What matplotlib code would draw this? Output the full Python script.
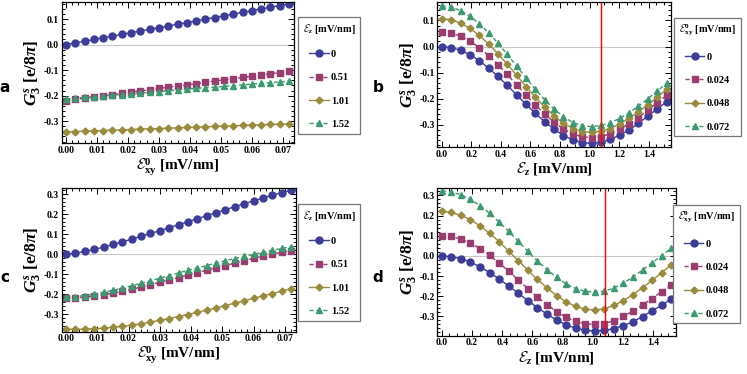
import matplotlib
matplotlib.use('Agg')
import matplotlib.pyplot as plt
from matplotlib.ticker import MultipleLocator, FormatStrFormatter

plt.rcParams['font.family'] = ['Liberation Serif', 'DejaVu Serif']
plt.rcParams['font.weight'] = 'bold'
plt.rcParams['axes.labelweight'] = 'bold'
plt.rcParams['mathtext.fontset'] = 'custom'
plt.rcParams['mathtext.rm'] = 'Liberation Serif:bold'
plt.rcParams['mathtext.bf'] = 'Liberation Serif:bold'
plt.rcParams['mathtext.it'] = 'Liberation Serif:italic:bold'
plt.rcParams['mathtext.cal'] = 'cmsy10'

# ---- data ----
exy = [0.000, 0.003, 0.006, 0.009, 0.012, 0.015, 0.018, 0.021, 0.024, 0.027, 0.030, 0.033,
       0.036, 0.039, 0.042, 0.045, 0.048, 0.051, 0.054, 0.057, 0.060, 0.063, 0.066, 0.069, 0.072]
ez = [0.000, 0.063, 0.127, 0.190, 0.253, 0.317, 0.380, 0.443, 0.507, 0.570, 0.633, 0.697,
      0.760, 0.823, 0.887, 0.950, 1.013, 1.077, 1.140, 1.203, 1.267, 1.330, 1.393, 1.457, 1.520]

ez_labels = ['0', '0.51', '1.01', '1.52']
exy_labels = ['0', '0.024', '0.048', '0.072']

# panel a: G vs Exy, fixed Ez
a_ez0 = [0.000, 0.007, 0.013, 0.020, 0.027, 0.033, 0.040, 0.047, 0.053, 0.060, 0.066, 0.073,
         0.080, 0.086, 0.093, 0.100, 0.106, 0.113, 0.120, 0.126, 0.133, 0.140, 0.146, 0.153, 0.159]
a_ez051 = [-0.220, -0.215, -0.210, -0.206, -0.201, -0.196, -0.191, -0.186, -0.182, -0.177, -0.172, -0.167,
           -0.162, -0.158, -0.153, -0.148, -0.143, -0.138, -0.134, -0.129, -0.124, -0.119, -0.114, -0.110, -0.105]
a_ez101 = [-0.342, -0.341, -0.339, -0.338, -0.337, -0.335, -0.334, -0.333, -0.331, -0.330, -0.329, -0.328,
           -0.326, -0.325, -0.324, -0.322, -0.321, -0.320, -0.318, -0.317, -0.316, -0.314, -0.313, -0.312, -0.311]
a_ez152 = [-0.213, -0.210, -0.207, -0.204, -0.201, -0.198, -0.196, -0.193, -0.190, -0.187, -0.184, -0.181,
           -0.178, -0.175, -0.172, -0.169, -0.167, -0.164, -0.161, -0.158, -0.155, -0.152, -0.149, -0.146, -0.143]

# panel b: G vs Ez, fixed Exy
b_exy0 = [0.000, -0.004, -0.014, -0.031, -0.054, -0.083, -0.115, -0.149, -0.186, -0.222, -0.257, -0.289,
          -0.318, -0.342, -0.359, -0.369, -0.372, -0.368, -0.357, -0.340, -0.321, -0.295, -0.267, -0.240, -0.212]
b_exy024 = [0.055, 0.051, 0.040, 0.021, -0.004, -0.035, -0.070, -0.107, -0.147, -0.187, -0.225, -0.260,
            -0.291, -0.317, -0.336, -0.347, -0.350, -0.346, -0.335, -0.318, -0.297, -0.273, -0.245, -0.216, -0.188]
b_exy048 = [0.107, 0.103, 0.090, 0.070, 0.043, 0.010, -0.028, -0.068, -0.111, -0.154, -0.195, -0.233,
            -0.267, -0.295, -0.315, -0.327, -0.330, -0.326, -0.315, -0.297, -0.275, -0.251, -0.223, -0.195, -0.164]
b_exy072 = [0.156, 0.151, 0.138, 0.117, 0.088, 0.053, 0.013, -0.030, -0.076, -0.121, -0.165, -0.205,
            -0.241, -0.270, -0.292, -0.304, -0.308, -0.303, -0.293, -0.276, -0.255, -0.229, -0.201, -0.171, -0.141]

# panel c
c_ez0 = [0.000, 0.006, 0.014, 0.024, 0.036, 0.049, 0.062, 0.076, 0.090, 0.104, 0.118, 0.133,
         0.148, 0.163, 0.178, 0.193, 0.208, 0.223, 0.238, 0.253, 0.267, 0.281, 0.295, 0.308, 0.320]
c_ez051 = [-0.220, -0.218, -0.214, -0.209, -0.202, -0.194, -0.185, -0.175, -0.164, -0.152, -0.140, -0.128,
           -0.116, -0.104, -0.092, -0.080, -0.068, -0.056, -0.044, -0.032, -0.020, -0.009, 0.002, 0.010, 0.018]
c_ez101 = [-0.375, -0.375, -0.374, -0.372, -0.369, -0.365, -0.360, -0.354, -0.347, -0.339, -0.330, -0.321,
           -0.311, -0.301, -0.290, -0.279, -0.268, -0.256, -0.244, -0.232, -0.220, -0.208, -0.196, -0.184, -0.172]
c_ez152 = [-0.213, -0.211, -0.206, -0.199, -0.190, -0.180, -0.169, -0.157, -0.145, -0.132, -0.119, -0.106,
           -0.093, -0.080, -0.068, -0.056, -0.044, -0.032, -0.021, -0.010, 0.000, 0.010, 0.020, 0.029, 0.038]

# panel d
d_exy0 = [0.000, -0.004, -0.014, -0.031, -0.054, -0.083, -0.115, -0.149, -0.186, -0.222, -0.257, -0.289,
          -0.318, -0.342, -0.359, -0.369, -0.373, -0.370, -0.361, -0.346, -0.327, -0.301, -0.273, -0.245, -0.215]
d_exy024 = [0.100, 0.096, 0.083, 0.063, 0.036, 0.002, -0.036, -0.076, -0.120, -0.163, -0.204, -0.242,
            -0.276, -0.304, -0.325, -0.337, -0.340, -0.336, -0.322, -0.300, -0.274, -0.243, -0.212, -0.177, -0.144]
d_exy048 = [0.220, 0.215, 0.201, 0.179, 0.149, 0.112, 0.070, 0.024, -0.024, -0.071, -0.117, -0.159,
            -0.197, -0.228, -0.251, -0.264, -0.268, -0.263, -0.246, -0.222, -0.192, -0.158, -0.122, -0.083, -0.045]
d_exy072 = [0.322, 0.317, 0.303, 0.280, 0.249, 0.211, 0.167, 0.121, 0.072, 0.022, -0.025, -0.068,
            -0.107, -0.139, -0.162, -0.176, -0.180, -0.175, -0.160, -0.135, -0.105, -0.070, -0.034, 0.001, 0.038]

ez_mark = 1.08

# Mathematica-like default colours / markers
colors = ['#3d3d99', '#993d71', '#998b3d', '#3d9970']
markers = ['o', 's', 'D', '^']
msizes = [5, 4.5, 3.5, 4.5]
lstyles = ['-', (0, (3, 2)), '-', (0, (3, 2))]

W, H = 747, 374
fig = plt.figure(figsize=(W / 100, H / 100), dpi=100)


def add_ax(l, t, r, b):
    return fig.add_axes([l / W, 1 - b / H, (r - l) / W, (b - t) / H])


def panel(ax, x, series, labels, xlim, ylim, xmaj, xmin_, yfmt, xfmt, xlabel, title, leg_xy):
    ax.axhline(0, color='#c8c8c8', lw=0.8, zorder=0)
    for vals, lab, c, m, ms, ls in zip(series, labels, colors, markers, msizes, lstyles):
        ax.plot(x, vals, color=c, ls=ls, lw=1.0, marker=m, ms=ms, mec=c, label=lab)
    ax.set_xlim(*xlim)
    ax.set_ylim(*ylim)
    ax.xaxis.set_major_locator(MultipleLocator(xmaj))
    ax.xaxis.set_minor_locator(MultipleLocator(xmin_))
    ax.yaxis.set_major_locator(MultipleLocator(0.1))
    ax.yaxis.set_minor_locator(MultipleLocator(0.02))
    ax.xaxis.set_major_formatter(FormatStrFormatter(xfmt))
    ax.yaxis.set_major_formatter(FormatStrFormatter(yfmt))
    ax.tick_params(which='both', direction='in', top=True, right=True, labelsize=7, pad=2, width=0.7)
    ax.tick_params(which='major', length=4)
    ax.tick_params(which='minor', length=2)
    for s in ax.spines.values():
        s.set_linewidth(0.9)
    ax.set_xlabel(xlabel, fontsize=11, labelpad=1)
    ax.set_ylabel(r'$G_3^s$ [e/8$\pi$]', fontsize=12.5, labelpad=1)
    leg = ax.legend(loc='upper left', bbox_to_anchor=(leg_xy[0] / W, 1 - leg_xy[1] / H),
                    bbox_transform=fig.transFigure, borderaxespad=0, title=title,
                    fontsize=7.5, title_fontsize=7.5, numpoints=1, handlelength=1.9,
                    handletextpad=0.2, labelspacing=1.35, borderpad=0.45,
                    fancybox=False, framealpha=1, edgecolor='#777777')
    leg.get_frame().set_linewidth(0.9)
    leg.get_title().set_fontweight('bold')


xl_exy = r'$\mathcal{E}_{\mathbf{xy}}^{\mathbf{0}}$ [mV/nm]'
xl_ez = r'$\mathcal{E}_{z}$ [mV/nm]'

ax_a = add_ax(61.7, 2, 294, 143.3)
panel(ax_a, exy, [a_ez0, a_ez051, a_ez101, a_ez152], ez_labels, (-0.0014, 0.0736), (-0.387, 0.167),
      0.01, 0.002, '%.1f', '%.2f', xl_exy, xl_ez, (298, 17))

ax_b = add_ax(437.3, 2, 671, 147)
panel(ax_b, ez, [b_exy0, b_exy024, b_exy048, b_exy072], exy_labels, (-0.03, 1.55), (-0.386, 0.171),
      0.2, 0.05, '%.1f', '%.1f', xl_ez, xl_exy, (674, 18))
ax_b.axvline(ez_mark, color='red', lw=1.0)

ax_c = add_ax(61.7, 187.7, 296, 331.7)
panel(ax_c, exy, [c_ez0, c_ez051, c_ez101, c_ez152], ez_labels, (-0.0014, 0.0736), (-0.387, 0.333),
      0.01, 0.002, '%.1f', '%.2f', xl_exy, xl_ez, (298, 204))

ax_d = add_ax(437.3, 188.3, 675.7, 335.5)
panel(ax_d, ez, [d_exy0, d_exy024, d_exy048, d_exy072], exy_labels, (-0.03, 1.55), (-0.395, 0.335),
      0.2, 0.05, '%.1f', '%.1f', xl_ez, xl_exy, (673, 205))
ax_d.axvline(ez_mark, color='red', lw=1.0)

for lab, px, py in [('a', 5, 88), ('b', 378, 88), ('c', 5, 278), ('d', 378, 278)]:
    fig.text(px / W, 1 - py / H, lab, fontsize=11, fontweight='bold', family='DejaVu Sans',
             ha='center', va='center')

fig.savefig('out.png', dpi=100)
